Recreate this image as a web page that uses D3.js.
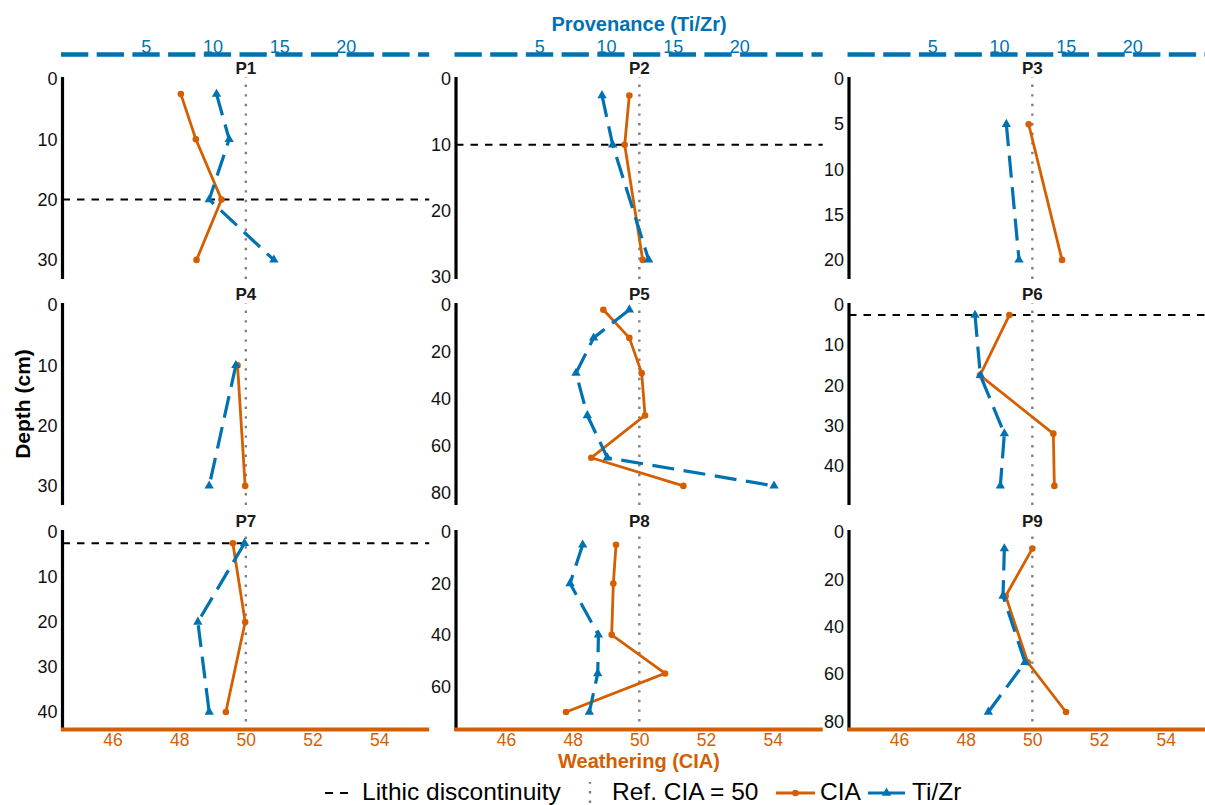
<!DOCTYPE html>
<html>
<head>
<meta charset="utf-8">
<script src="https://cdn.jsdelivr.net/npm/d3@7"></script>
<style>
  body { margin: 0; background: #fff; }
  svg { display: block; }
  text { font-family: "Liberation Sans", Arial, Helvetica, sans-serif; }
</style>
</head>
<body>
<svg id="chart" width="1205" height="805"></svg>
<script>
// ---- Soil profile data: sample depth (cm), CIA and Ti/Zr per profile ----
const profiles = ["P1", "P2", "P3", "P4", "P5", "P6", "P7", "P8", "P9"];

const depths = [
  [2.5, 10, 20, 30],
  [2.5, 10, 27.5],
  [5, 20],
  [10, 30],
  [2, 14, 29, 47, 65, 77],
  [2.5, 17.5, 32, 45],
  [2.5, 20, 40],
  [5, 20, 40, 55, 70],
  [7, 27, 55, 76]
];

const ciaValues = [
  [48.05, 48.5, 49.27, 48.52],
  [49.7, 49.56, 50.1],
  [49.89, 50.89],
  [49.75, 49.98],
  [48.92, 49.7, 50.07, 50.17, 48.56, 51.32],
  [49.31, 48.43, 50.63, 50.66],
  [49.61, 49.98, 49.4],
  [49.3, 49.22, 49.17, 50.77, 47.8],
  [50.0, 49.2, 49.86, 51.01]
];

const tizrValues = [
  [10.3, 11.25, 9.75, 14.6],
  [9.7, 10.5, 13.2],
  [10.55, 11.5],
  [11.75, 9.75],
  [11.75, 9.07, 7.75, 8.6, 10.1, 22.6],
  [8.2, 8.6, 10.4, 10.1],
  [12.4, 8.9, 9.75],
  [8.25, 7.3, 9.43, 9.38, 8.75],
  [10.4, 10.3, 11.95, 9.2]
];

// depth of the lithic discontinuity in each profile (null = none)
const discontinuityDepths = [20, 10, null, null, null, 2.5, 2.5, null, null];

// depth tick labels per profile
const depthTicks = [
  [0, 10, 20, 30],
  [0, 10, 20, 30],
  [0, 5, 10, 15, 20],
  [0, 10, 20, 30],
  [0, 20, 40, 60, 80],
  [0, 10, 20, 30, 40],
  [0, 10, 20, 30, 40],
  [0, 20, 40, 60],
  [0, 20, 40, 60, 80]
];

const ciaReference = 50;
const ciaDomain = [44.5, 55.5];
const ciaTicks = [46, 48, 50, 52, 54];
const tizrTicks = [5, 10, 15, 20];

// secondary axis: CIA = 45 + 0.4 * Ti/Zr
const ciaToTizr = c => (c - 45) / 0.4;

// ---- layout ----
const colLeft = [62.5, 456, 849];
const panelW = 366.7;
const rowTop = [77, 303, 530];
const rowBottom = [279, 505, 731];

const ORANGE = "#D55E00";
const BLUE = "#0072B2";
const GREY = "#808080";
const FONT = '"Liberation Sans", Arial, sans-serif';

const svg = d3.select("#chart");
const root = svg.append("g");

profiles.forEach((name, i) => {
  const col = i % 3, row = Math.floor(i / 3);
  const x0 = colLeft[col], x1 = colLeft[col] + panelW;
  const top = rowTop[row], bottom = rowBottom[row];

  const x = d3.scaleLinear().domain(ciaDomain).range([x0, x1]);
  const xT = d3.scaleLinear().domain(ciaDomain.map(ciaToTizr)).range([x0, x1]);
  const y = d3.scaleLinear()
    .domain([0, d3.max(depths[i]) * 1.1])
    .range([top + 2, bottom - 1]);

  const g = root.append("g");

  // panel title
  g.append("text")
    .attr("x", (x0 + x1) / 2).attr("y", top - 3)
    .attr("text-anchor", "middle")
    .attr("font-size", 17).attr("font-weight", "bold")
    .attr("fill", "#1a1a1a")
    .text(name);

  // reference CIA = 50 (dotted, drawn upward from the panel bottom)
  g.append("line")
    .attr("x1", x(ciaReference)).attr("x2", x(ciaReference))
    .attr("y1", bottom).attr("y2", top)
    .attr("stroke", GREY).attr("stroke-width", 2.4)
    .attr("stroke-dasharray", "2.4,7.2");

  // lithic discontinuity
  if (discontinuityDepths[i] !== null) {
    g.append("line")
      .attr("x1", x0).attr("x2", x1)
      .attr("y1", y(discontinuityDepths[i])).attr("y2", y(discontinuityDepths[i]))
      .attr("stroke", "#000").attr("stroke-width", 2)
      .attr("stroke-dasharray", "7.5,7");
  }

  // depth axis
  const yAxis = d3.axisLeft(y).tickValues(depthTicks[i]).tickSize(0).tickPadding(5);
  const ya = g.append("g").attr("transform", `translate(${x0},0)`).call(yAxis);
  ya.select(".domain").remove();
  ya.selectAll("text")
    .attr("font-size", 18).attr("fill", "#111")
    .style("font-family", FONT);
  g.append("line")
    .attr("x1", x0).attr("x2", x0).attr("y1", top).attr("y2", bottom)
    .attr("stroke", "#000").attr("stroke-width", 3.2);

  // Ti/Zr axis along the top row
  if (row === 0) {
    const ta = g.append("g").attr("transform", "translate(0,54.5)")
      .call(d3.axisTop(xT).tickValues(tizrTicks).tickSize(0).tickPadding(2));
    ta.select(".domain").remove();
    ta.selectAll("text")
      .attr("font-size", 18).attr("fill", BLUE)
      .style("font-family", FONT);
    g.append("line")
      .attr("x1", x0 - 1.5).attr("x2", x1).attr("y1", 54.5).attr("y2", 54.5)
      .attr("stroke", BLUE).attr("stroke-width", 4.5)
      .attr("stroke-dasharray", "27.3,8.4");
  }

  // CIA axis along the bottom row
  if (row === 2) {
    const ba = g.append("g").attr("transform", "translate(0,729.5)")
      .call(d3.axisBottom(x).tickValues(ciaTicks).tickSize(0).tickPadding(4));
    ba.select(".domain").remove();
    ba.selectAll("text")
      .attr("font-size", 17.5).attr("fill", ORANGE)
      .style("font-family", FONT);
    g.append("line")
      .attr("x1", x0 - 1.5).attr("x2", x1).attr("y1", 729.5).attr("y2", 729.5)
      .attr("stroke", ORANGE).attr("stroke-width", 3.8);
  }

  const pts = depths[i].map((d, k) => ({ depth: d, cia: ciaValues[i][k], tizr: tizrValues[i][k] }));

  // CIA profile
  g.append("path")
    .attr("d", d3.line().x(d => x(d.cia)).y(d => y(d.depth))(pts))
    .attr("fill", "none").attr("stroke", ORANGE).attr("stroke-width", 2.8);
  g.selectAll(".cia-pt").data(pts).enter().append("circle")
    .attr("cx", d => x(d.cia)).attr("cy", d => y(d.depth)).attr("r", 3.3)
    .attr("fill", ORANGE);

  // Ti/Zr profile
  g.append("path")
    .attr("d", d3.line().x(d => xT(d.tizr)).y(d => y(d.depth))(pts))
    .attr("fill", "none").attr("stroke", BLUE).attr("stroke-width", 3.2)
    .attr("stroke-dasharray", "22,9.6");
  g.selectAll(".tz-pt").data(pts).enter().append("path")
    .attr("transform", d => `translate(${xT(d.tizr)},${y(d.depth)})`)
    .attr("d", d3.symbol(d3.symbolTriangle, 38)())
    .attr("fill", BLUE);
});

// ---- axis titles ----
root.append("text")
  .attr("x", 639).attr("y", 31).attr("text-anchor", "middle")
  .attr("font-size", 20).attr("font-weight", "bold").attr("fill", BLUE)
  .text("Provenance (Ti/Zr)");

root.append("text")
  .attr("x", 639).attr("y", 768).attr("text-anchor", "middle")
  .attr("font-size", 20).attr("font-weight", "bold").attr("fill", ORANGE)
  .text("Weathering (CIA)");

root.append("text")
  .attr("transform", "translate(30,404) rotate(-90)")
  .attr("text-anchor", "middle")
  .attr("font-size", 21).attr("font-weight", "bold").attr("fill", "#000")
  .text("Depth (cm)");

// ---- legend ----
const lg = root.append("g");
const ly = 793, lBase = 799.5;

lg.append("line").attr("x1", 325).attr("x2", 348).attr("y1", ly).attr("y2", ly)
  .attr("stroke", "#000").attr("stroke-width", 2.2).attr("stroke-dasharray", "8,7");
lg.append("text").attr("x", 362).attr("y", lBase).attr("font-size", 24.5).text("Lithic discontinuity");

lg.append("line").attr("x1", 590).attr("x2", 590).attr("y1", 803).attr("y2", 782)
  .attr("stroke", GREY).attr("stroke-width", 2.4).attr("stroke-dasharray", "2.4,7.2");
lg.append("text").attr("x", 612).attr("y", lBase).attr("font-size", 24.5).text("Ref. CIA = 50");

lg.append("line").attr("x1", 776).attr("x2", 815).attr("y1", ly).attr("y2", ly)
  .attr("stroke", ORANGE).attr("stroke-width", 2.8);
lg.append("circle").attr("cx", 795.5).attr("cy", ly).attr("r", 3.3).attr("fill", ORANGE);
lg.append("text").attr("x", 820).attr("y", lBase).attr("font-size", 24.5).text("CIA");

lg.append("line").attr("x1", 868).attr("x2", 905).attr("y1", ly).attr("y2", ly)
  .attr("stroke", BLUE).attr("stroke-width", 3.2);
lg.append("path").attr("transform", `translate(886.5,${ly})`)
  .attr("d", d3.symbol(d3.symbolTriangle, 38)()).attr("fill", BLUE);
lg.append("text").attr("x", 912).attr("y", lBase).attr("font-size", 24.5).text("Ti/Zr");
</script>
</body>
</html>
